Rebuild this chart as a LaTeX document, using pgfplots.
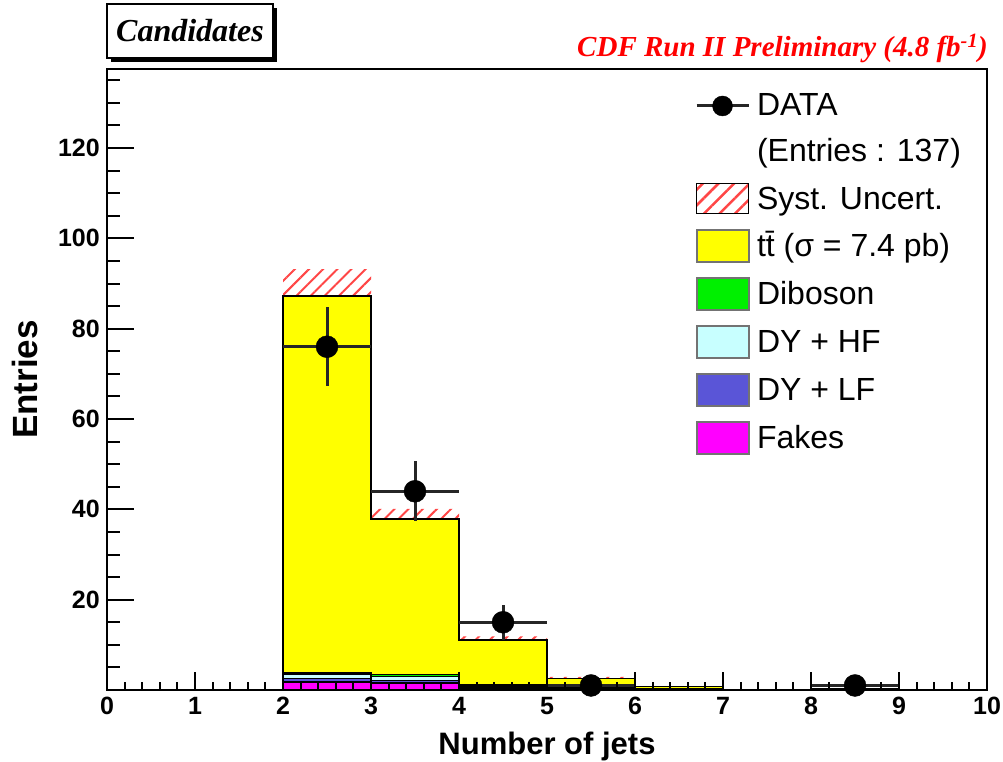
\documentclass[border=0pt]{standalone}
\usepackage{fontspec}
\setmainfont{Liberation Sans}
\newfontfamily\timesfont{Liberation Serif}
\usepackage{pgfplots}
\usepackage{pgfplotstable}
\pgfplotsset{compat=1.18}
\usepgfplotslibrary{fillbetween}
\usetikzlibrary{patterns.meta}

\definecolor{ttyellow}{RGB}{255,255,0}
\definecolor{dibgreen}{RGB}{0,240,0}
\definecolor{dyhf}{RGB}{200,255,255}
\definecolor{dylf}{RGB}{90,85,215}
\definecolor{fakes}{RGB}{255,0,255}
\definecolor{systred}{RGB}{255,70,70}

% expected contributions per jet-multiplicity bin (lower bin edge)
\pgfplotstableread{
edge fakes dylf dyhf dib tt
2 1.8  0.7  0.9  0.4  83.4
3 1.5  0.6  0.9  0.4  34.5
4 0.45 0.3  0.25 0.1  10.0
5 0.2  0.2  0.2  0.1  1.9
6 0.1  0.1  0.1  0.05 0.4
7 0.0  0.03 0.03 0.02 0.05
8 0.05 0.05 0.05 0.03 0.05
9 0.05 0.05 0.05 0.03 0.05
}\mctable

% systematic uncertainty band on the total expectation
\pgfplotstableread{
edge lo hi
2 81.2 93.2
3 35.7 40.1
4 10.3 11.9
5 2.3  2.9
6 0.65 0.85
7 0.65 0.85
}\systtable

% observed candidates
\pgfplotstableread{
x y ex ey
2.5 76 0.5 8.72
3.5 44 0.5 6.63
4.5 15 0.5 3.87
5.5 1  0.5 1
8.5 1  0.5 1
}\datatable

\pgfplotsset{
  frame/.style={
    scale only axis, width=880pt, height=621pt,
    at={(0pt,0pt)}, anchor=south west,
    xmin=0, xmax=10, ymin=0, ymax=137.5,
    tick align=inside, tick pos=left,
    /pgf/number format/assume math mode=true,
    ticklabel style={font=\fontsize{25}{30}\selectfont\bfseries},
    tick style={line width=2pt, black},
  },
  mcfill/.style={forget plot, const plot, draw=black, line width=1.5pt, fill=#1},
  boxleg/.style={legend image code/.code={%
      \draw[fill=#1, draw=black!55, line width=2pt] (0pt,-16pt) rectangle (52pt,16pt);}},
}

\begin{document}
\begin{tikzpicture}
\begin{axis}[
  frame,
  axis on top,
  axis line style={line width=2pt},
  xtick={0,1,...,10}, minor x tick num=4,
  ytick=\empty,
  major tick length=18pt, minor tick length=8pt,
  xticklabel style={inner sep=0pt, yshift=-7pt},
  xlabel={Number of jets},
  every axis x label/.style={at={(axis description cs:0.5,0)}, yshift=-65pt,
    anchor=base, inner sep=0pt, font=\fontsize{31}{36}\selectfont\bfseries},
  legend style={at={(0.66818,0.96618)}, anchor=north west, draw=none, fill=none,
    inner sep=0pt, outer sep=0pt, row sep=14pt, column sep=7pt,
    font=\fontsize{32}{38}\selectfont,
    nodes={inner sep=0pt, text height=26pt, text depth=6pt}},
  legend cell align=left,
]
% stacked expectation, smallest contribution at the bottom
\addplot[mcfill=fakes, stack plots=y] table[x=edge, y=fakes]{\mctable} \closedcycle;
\addplot[mcfill=dylf, stack plots=y] table[x=edge, y=dylf]{\mctable} \closedcycle;
\addplot[mcfill=dyhf, stack plots=y] table[x=edge, y=dyhf]{\mctable} \closedcycle;
\addplot[mcfill=dibgreen, stack plots=y] table[x=edge, y=dib]{\mctable} \closedcycle;
\addplot[mcfill=ttyellow, stack plots=y] table[x=edge, y=tt]{\mctable} \closedcycle;

% hatched systematic band
\addplot[forget plot, const plot, draw=none, name path=systhi] table[x=edge, y=hi]{\systtable};
\addplot[forget plot, const plot, draw=none, name path=systlo] table[x=edge, y=lo]{\systtable};
\addplot[forget plot, draw=none, pattern={Lines[angle=45, distance=10pt, line width=2pt]},
  pattern color=systred] fill between[of=systhi and systlo];

% data points with statistical errors
\addplot[forget plot, only marks, mark=*, mark size=11pt, black,
  error bars/error bar style={line width=3pt, black!85},
  error bars/.cd, x dir=both, x explicit, y dir=both, y explicit, error mark=none]
  table[x=x, y=y, x error=ex, y error=ey]{\datatable};

\addlegendimage{legend image code/.code={%
  \draw[line width=3pt, black!85] (0pt,0pt) -- (52pt,0pt);
  \fill[black] (26pt,0pt) circle (10pt);}}
\addlegendentry{DATA}
\addlegendimage{empty legend}
\addlegendentry{(Entries : 137)}
\addlegendimage{legend image code/.code={%
  \fill[pattern={Lines[angle=45, distance=11pt, line width=2.5pt]}, pattern color=systred]
    (0pt,-14pt) rectangle (52pt,16pt);}}
\addlegendentry{Syst. Uncert.}
\addlegendimage{boxleg=ttyellow}
\addlegendentry{t\=t (σ = 7.4 pb)}
\addlegendimage{boxleg=dibgreen}
\addlegendentry{Diboson}
\addlegendimage{boxleg=dyhf}
\addlegendentry{DY + HF}
\addlegendimage{boxleg=dylf}
\addlegendentry{DY + LF}
\addlegendimage{boxleg=fakes}
\addlegendentry{Fakes}
\end{axis}

% y axis ticks, labels and title
\begin{axis}[
  frame,
  axis x line=none, axis y line*=left,
  y axis line style={draw=none},
  ytick={20,40,...,120}, minor ytick={5,10,...,135},
  major tick length=27pt, minor tick length=13pt,
  yticklabel style={inner sep=0pt, xshift=-7pt},
  ylabel={Entries},
  every axis y label/.style={at={(axis description cs:0,0.5)}, xshift=-69pt,
    anchor=base, rotate=90, inner sep=0pt, font=\fontsize{35}{40}\selectfont\bfseries},
]
\end{axis}

% header: plot label and experiment tag
\fill[black] (4pt,628pt) rectangle (170pt,682pt);
\draw[fill=white, line width=1.5pt] (0pt,632pt) rectangle (166pt,686pt);
\node[anchor=base, inner sep=0pt, font=\timesfont\bfseries\itshape\fontsize{32}{38}\selectfont]
  at (83pt,648pt) {Candidates};
\node[anchor=base east, inner sep=0pt, text=red,
  font=\timesfont\bfseries\itshape\fontsize{29}{34}\selectfont]
  at (881pt,633pt) {CDF Run II Preliminary (4.8 fb\textsuperscript{-1})};

\pgfresetboundingbox
\path (-107pt,-72pt) rectangle (896pt,690pt);
\end{tikzpicture}
\end{document}
